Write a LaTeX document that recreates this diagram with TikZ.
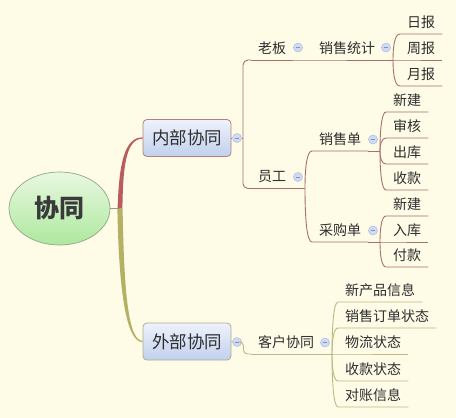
\documentclass[tikz,border=0pt]{standalone}
\usepackage{fontspec}
\setmainfont{Noto Sans CJK SC}
\usetikzlibrary{calc,shapes.geometric}
\definecolor{bg}{HTML}{FEFBE7}
\definecolor{txt}{HTML}{2E2E2E}
\definecolor{redln}{HTML}{A8706A}
\definecolor{oliveln}{HTML}{BCBA82}
\definecolor{redthick}{HTML}{B85C5C}
\definecolor{olivethick}{HTML}{B4B064}
\definecolor{circfill}{HTML}{D0DBF1}
\definecolor{circdraw}{HTML}{AABCDF}
\definecolor{circmin}{HTML}{7A92C4}
\definecolor{boxtop}{HTML}{EEF2FB}
\definecolor{boxbot}{HTML}{C2D0EE}
\definecolor{boxredd}{HTML}{B48080}
\definecolor{boxolid}{HTML}{A8B090}
\definecolor{roottop}{HTML}{E8F8E0}
\definecolor{rootbot}{HTML}{AEE89E}
\definecolor{rootdraw}{HTML}{8FA886}
\definecolor{roottxt}{HTML}{3A3A3A}
\definecolor{rootln}{HTML}{9A9A82}
\tikzset{
  lbl/.style={font=\fontsize{14}{16}\selectfont, text=txt, text height=12.6pt, text depth=2pt,
    inner ysep=4.7pt, inner xsep=7pt},
  topbox/.style={rounded corners=4pt, minimum width=88pt, minimum height=37pt,
    top color=boxtop, bottom color=boxbot, text=txt, font=\fontsize{17.5}{20}\selectfont, inner sep=0pt},
  circ/.style={circle, minimum size=9pt, inner sep=0pt, fill=circfill, draw=circdraw, line width=0.5pt,
    path picture={\draw[circmin, line width=0.7pt]
      ([xshift=-2.3pt]path picture bounding box.center) -- ([xshift=2.3pt]path picture bounding box.center);}},
  rl/.style={draw=redln, line width=0.9pt},
  ol/.style={draw=oliveln, line width=0.9pt},
}
\newcommand\fanto[3]{%
  \draw[#1] (#2) .. controls ($(#2)!0.5!(#2 |- #3.south west)$) and ($(#2 |- #3.south west)+(1.5,0)$) .. (#3.south west) -- (#3.south east);}
\begin{document}
\begin{tikzpicture}[x=1pt,y=-1pt]
\fill[bg] (0,0) rectangle (456,418);
\useasboundingbox (0,0) rectangle (456,418);

% root
\node[ellipse, minimum width=101pt, minimum height=73pt, inner sep=0pt,
  top color=roottop, bottom color=rootbot, draw=rootdraw, line width=0.7pt,
  font=\fontsize{25}{28}\selectfont\bfseries, text=roottxt] (root) at (59.5,208.5) {协同};
\coordinate (jroot) at (120,208.5);
\draw[draw=rootln, line width=0.9pt] (root.east) -- (jroot);

% level 1 boxes
\node[topbox, draw=boxredd, line width=0.8pt] (neibu) at (187,138) {内部协同};
\node[topbox, draw=boxolid, line width=0.8pt] (waibu) at (187,341.5) {外部协同};

% thick branches
\fill[redthick] ($(jroot)+(-2.4,0)$) .. controls (119,165) and (124,137.2) .. ([yshift=0.6pt]neibu.west)
  -- ([yshift=-0.6pt]neibu.west) .. controls (125.5,138.8) and (123,168) .. ($(jroot)+(2.4,0)$) -- cycle;
\fill[olivethick] ($(jroot)+(-2.6,0)$) .. controls (118.8,290) and (126,342.2) .. ([yshift=-0.6pt]waibu.west)
  -- ([yshift=0.6pt]waibu.west) .. controls (128,340.8) and (124,290) .. ($(jroot)+(2.6,0)$) -- cycle;

% ===== 内部协同 =====
\node[circ] (c1) at (237,138) {};
\draw[rl] (neibu.east) -- (c1.west);
\coordinate (b1) at (243,138);
\draw[rl] (c1.east) -- (b1);

\node[lbl, anchor=south west] (laoban) at (251,60) {老板};
\node[lbl, anchor=south west] (yuangong) at (251,188.5) {员工};
\draw[rl, rounded corners=5pt] (laoban.south west) -| (b1) |- (yuangong.south west);
\draw[rl] (laoban.south west) -- (laoban.south east);
\draw[rl] (yuangong.south west) -- (yuangong.south east);

% 老板 -> 销售统计
\node[circ] (cl) at (298,47.5) {};
\node[lbl, anchor=south west] (tongji) at (312,60) {销售统计};
\draw[rl] (laoban.south east) -- (tongji.south west) -- (tongji.south east);
\node[circ] (ct) at (386,47.5) {};
\coordinate (jt) at (393,60);
\draw[rl] (tongji.south east) -- (jt);
\node[lbl, anchor=south west] (ribao) at (400,34) {日报};
\node[lbl, anchor=south west] (zhoubao) at (400,60) {周报};
\node[lbl, anchor=south west] (yuebao) at (400,86) {月报};
\fanto{rl}{jt}{ribao}
\fanto{rl}{jt}{zhoubao}
\fanto{rl}{jt}{yuebao}

% 员工 -> 销售单 / 采购单
\node[circ] (cy) at (298,177) {};
\coordinate (jy) at (305,188.5);
\draw[rl] (yuangong.south east) -- (jy);
\node[lbl, anchor=south west] (xsd) at (312,151) {销售单};
\node[lbl, anchor=south west] (cgd) at (312,242) {采购单};
\fanto{rl}{jy}{xsd}
\fanto{rl}{jy}{cgd}

\node[circ] (cx) at (373,139.5) {};
\coordinate (jx) at (380,151);
\draw[rl] (xsd.south east) -- (jx);
\node[lbl, anchor=south west] (xj1) at (386,112) {新建};
\node[lbl, anchor=south west] (sh) at (386,138) {审核};
\node[lbl, anchor=south west] (ck) at (386,164) {出库};
\node[lbl, anchor=south west] (sk) at (386,190) {收款};
\fanto{rl}{jx}{xj1}
\fanto{rl}{jx}{sh}
\fanto{rl}{jx}{ck}
\fanto{rl}{jx}{sk}

\node[circ] (cc) at (373,230.5) {};
\coordinate (jc) at (380,242);
\draw[rl] (cgd.south east) -- (jc);
\node[lbl, anchor=south west] (xj2) at (386,216) {新建};
\node[lbl, anchor=south west] (rk) at (386,242) {入库};
\node[lbl, anchor=south west] (fk) at (386,267) {付款};
\fanto{rl}{jc}{xj2}
\fanto{rl}{jc}{rk}
\fanto{rl}{jc}{fk}

% ===== 外部协同 =====
\node[circ] (c2) at (237,342) {};
\draw[ol] (waibu.east) -- (c2.west);
\node[lbl, anchor=south west] (kehu) at (251,354) {客户协同};
\draw[ol, rounded corners=4pt] (c2.east) -- (243.5,342) -- (243.5,354) -- (kehu.south west);
\draw[ol] (kehu.south west) -- (kehu.south east);
\node[circ] (ck2) at (325,342.5) {};
\coordinate (jk) at (332,354);
\draw[ol] (kehu.south east) -- (jk);
\node[lbl, anchor=south west] (k1) at (338,302) {新产品信息};
\node[lbl, anchor=south west] (k2) at (338,328) {销售订单状态};
\node[lbl, anchor=south west] (k3) at (338,354) {物流状态};
\node[lbl, anchor=south west] (k4) at (338,381) {收款状态};
\node[lbl, anchor=south west] (k5) at (338,407) {对账信息};
\fanto{ol}{jk}{k1}
\fanto{ol}{jk}{k2}
\fanto{ol}{jk}{k3}
\fanto{ol}{jk}{k4}
\fanto{ol}{jk}{k5}
\end{tikzpicture}
\end{document}
